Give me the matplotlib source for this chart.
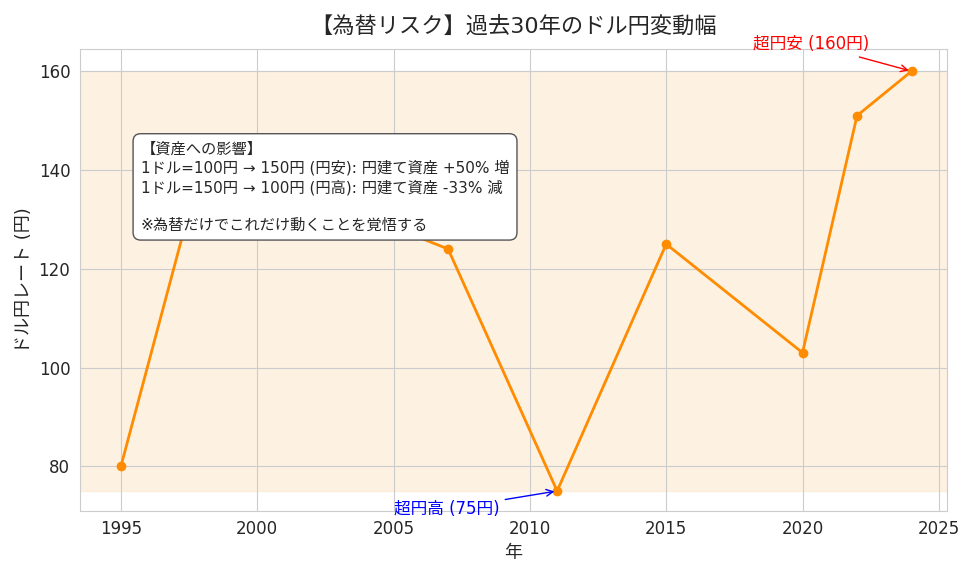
import matplotlib
matplotlib.use("Agg")
import matplotlib.pyplot as plt
import seaborn as sns

years = [1995, 1998, 2002, 2007, 2011, 2015, 2020, 2022, 2024]
rates = [80, 142, 135, 124, 75, 125, 103, 151, 160]

sns.set_style("whitegrid")
plt.rcParams['font.family'] = ['DejaVu Sans', 'Noto Sans CJK JP']

fig, ax = plt.subplots(figsize=(9.76, 5.77), dpi=100)
ax.axhspan(min(rates), max(rates), color='#fde8cf', alpha=0.6, zorder=0)
ax.plot(years, rates, color='darkorange', lw=2, marker='o', ms=6, zorder=3)
ax.set_title('【為替リスク】過去30年のドル円変動幅', fontsize=16, pad=12)
ax.set_xlabel('年', fontsize=13)
ax.set_ylabel('ドル円レート (円)', fontsize=13)
ax.tick_params(labelsize=12)
ax.set_xlim(1993.5, 2025.3)
ax.set_ylim(71, 164.5)
ax.set_yticks([80, 100, 120, 140, 160])
ax.annotate('超円安 (160円)', xy=(2024, 160), xytext=(2018.2, 164.5), color='red', fontsize=12,
            arrowprops=dict(arrowstyle='->', color='red'), annotation_clip=False)
ax.annotate('超円高 (75円)', xy=(2011, 75), xytext=(2005.0, 70.3), color='blue', fontsize=12,
            arrowprops=dict(arrowstyle='->', color='blue'), annotation_clip=False)
txt = ('【資産への影響】\n1ドル=100円 → 150円 (円安): 円建て資産 +50% 増\n'
       '1ドル=150円 → 100円 (円高): 円建て資産 -33% 減\n\n※為替だけでこれだけ動くことを覚悟する')
ax.text(0.07, 0.80, txt, transform=ax.transAxes, fontsize=11, va='top', zorder=5,
        linespacing=1.3,
        bbox=dict(boxstyle='round,pad=0.5', fc='white', ec='#555555'))
for s in ax.spines.values():
    s.set_color('#cccccc')
fig.tight_layout()
fig.savefig('out.png', dpi=100)
